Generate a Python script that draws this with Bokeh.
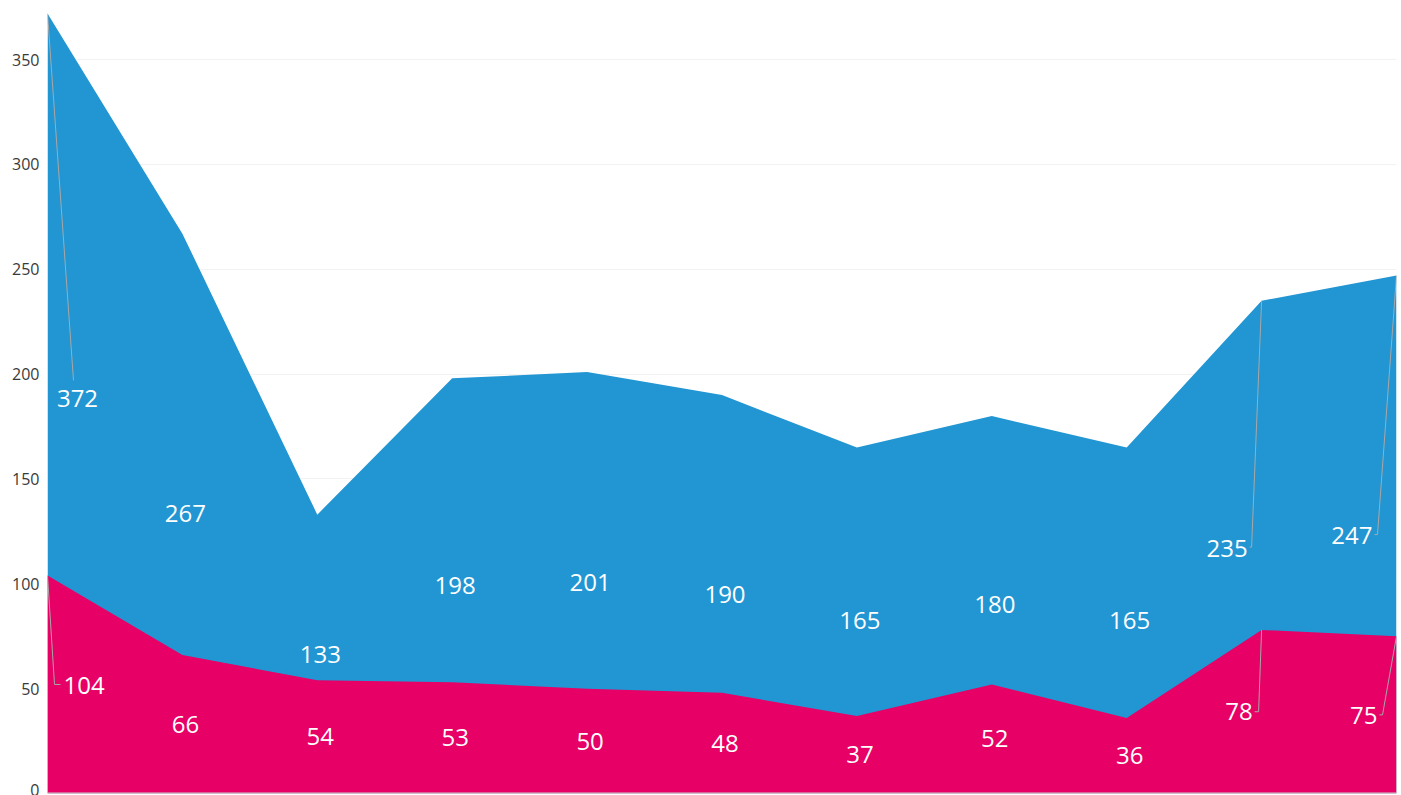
from bokeh.plotting import figure
from bokeh.models import ColumnDataSource, Range1d, FixedTicker, LinearAxis
from bokeh.core.properties import value
from bokeh.embed import file_html
from bokeh.resources import INLINE

# ---- data ----
positions = list(range(11))
total_values = [372, 267, 133, 198, 201, 190, 165, 180, 165, 235, 247]
part_values = [104, 66, 54, 53, 50, 48, 37, 52, 36, 78, 75]
y_ticks = [0, 50, 100, 150, 200, 250, 300, 350]

BLUE = "#2196d3"
PINK = "#e70065"
LEADER = "#a8a8a8"

W, H = 1400, 795
ML, MR, MT, MB = 47, 4, 13, 2
FRAME_W = W - ML - MR
FRAME_H = H - MT - MB
X0, X1 = 0, len(positions) - 1
Y0, Y1 = 0, max(total_values)
PX_X = FRAME_W / (X1 - X0)   # pixels per x unit
PX_Y = FRAME_H / (Y1 - Y0)   # pixels per y unit

p = figure(width=W, height=H, output_backend="svg", toolbar_location=None,
           x_range=Range1d(X0, X1), y_range=Range1d(Y0, Y1),
           min_border_left=ML, min_border_right=MR, min_border_top=MT,
           min_border_bottom=MB, x_axis_location=None, y_axis_location=None)
p.outline_line_color = None
p.background_fill_color = "white"
p.border_fill_color = "white"

yaxis = LinearAxis(ticker=FixedTicker(ticks=y_ticks))
yaxis.axis_line_color = None
yaxis.major_tick_line_color = None
yaxis.minor_tick_line_color = None
yaxis.major_tick_out = 0
yaxis.major_tick_in = 0
yaxis.major_label_text_font = "Open Sans"
yaxis.major_label_text_font_size = "16px"
yaxis.major_label_text_color = "#3a3a3a"
yaxis.major_label_standoff = 8
p.add_layout(yaxis, "left")

p.xgrid.visible = False
p.ygrid.ticker = FixedTicker(ticks=y_ticks[1:])
p.ygrid.grid_line_color = "#f2f2f2"
p.ygrid.grid_line_width = 1

src = ColumnDataSource(dict(x=positions, total=total_values, part=part_values))

p.varea(x="x", y1=0, y2="total", source=src, fill_color=BLUE)
p.varea(x="x", y1=0, y2="part", source=src, fill_color=PINK)

# bottom baseline
p.segment(x0=[X0], y0=[Y0], x1=[X1], y1=[Y0], line_color="#cccccc", line_width=2)

# label placement overrides (pixel offsets):
# index -> (label dx, label dy, align, elbow dx, elbow dy, end dx)
total_special = {0: (30, 5, "center", 26, 23, None),
                 9: (-14, -1, "right", -10, 0, -12),
                 10: (-24, -1, "right", -19, 0, -22)}
part_special = {0: (16, -1, "left", 7, 0, 13),
                9: (-9, 0, "right", -3, 0, -7),
                10: (-19, -1, "right", -14, 0, -17)}

FONT = value("Open Sans")


def draw_labels(vals, special):
    xs, ys, txt = [], [], []
    for i, v in zip(positions, vals):
        if i in special:
            continue
        xs.append(i); ys.append(v / 2); txt.append(str(v))
    p.text(x=xs, y=ys, text=txt, text_font=FONT, text_font_size="24px",
           text_color="white", text_align="center", text_baseline="middle",
           x_offset=3)
    for i, (dx, dy, align, ex, ey, endx) in special.items():
        v = vals[i]
        lx = i + dx / PX_X
        ly = v / 2 + dy / PX_Y
        p.text(x=[lx], y=[ly], text=[str(v)], text_font=FONT, text_font_size="24px",
               text_color="white", text_align=align, text_baseline="middle")
        elx = i + ex / PX_X
        ely = v / 2 + ey / PX_Y
        lxs = [i, elx]
        lys = [v, ely]
        if endx is not None:
            lxs.append(i + endx / PX_X)
            lys.append(ely)
        p.line(x=lxs, y=lys, line_color=LEADER, line_width=1)


draw_labels(total_values, total_special)
draw_labels(part_values, part_special)

open("out.html", "w").write(file_html(p, INLINE))
